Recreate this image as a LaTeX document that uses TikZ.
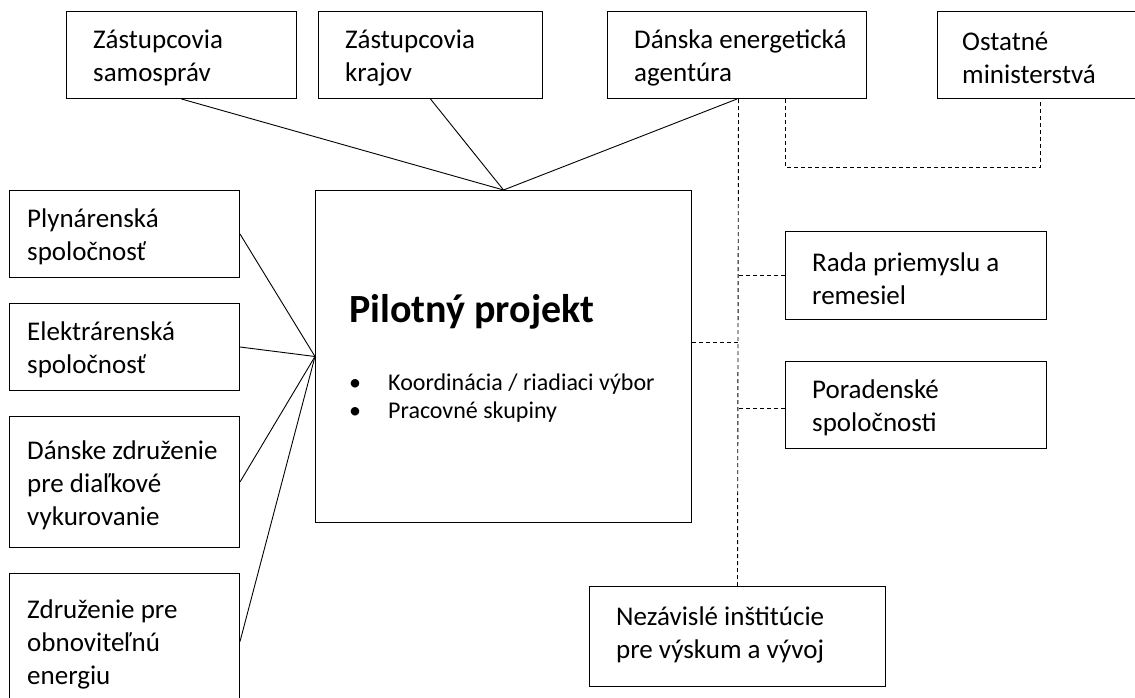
\documentclass[tikz,border=0pt]{standalone}
\usepackage{fontspec}
\setmainfont{Carlito}
\tikzset{
    box/.style={draw, line width=1pt, inner sep=0pt, anchor=north west},
    lbl/.style={anchor=west, align=left, inner sep=0pt, yshift=-3pt, font=\fontsize{27}{33}\selectfont},
    link/.style={line width=0.9pt},
    dlink/.style={line width=0.9pt, dash pattern=on 4pt off 3pt}
}
\begin{document}
\begin{tikzpicture}[x=1pt,y=-1pt]
    \clip (0,0) rectangle (1135,697);
    % top row
    \node[box, minimum width=230, minimum height=87] (samo) at (66,11) {};
    \node[box, minimum width=224, minimum height=87] (kraj) at (318,11) {};
    \node[box, minimum width=259, minimum height=87] (dea) at (607,11) {};
    \node[box, minimum width=198, minimum height=87] (mini) at (937,11) {};
    \node[lbl] (samo-t) at ([xshift=27pt]samo.west) {Zástupcovia\\samospráv};
    \node[lbl] (kraj-t) at ([xshift=27pt]kraj.west) {Zástupcovia\\krajov};
    \node[lbl] (dea-t) at ([xshift=27pt]dea.west) {Dánska energetická\\agentúra};
    \node[lbl] (mini-t) at ([xshift=25pt]mini.west) {Ostatné\\ministerstvá};
    % left column
    \node[box, minimum width=230, minimum height=87] (plyn) at (9,190) {};
    \node[box, minimum width=230, minimum height=87] (elek) at (9,303) {};
    \node[box, minimum width=230, minimum height=131] (dzdr) at (9,416) {};
    \node[box, minimum width=230, minimum height=136] (obno) at (9,573) {};
    \node[lbl] (plyn-t) at ([xshift=18pt]plyn.west) {Plynárenská\\spoločnosť};
    \node[lbl] (elek-t) at ([xshift=18pt]elek.west) {Elektrárenská\\spoločnosť};
    \node[lbl] (dzdr-t) at ([xshift=18pt]dzdr.west) {Dánske združenie\\pre diaľkové\\vykurovanie};
    \node[lbl] (obno-t) at ([xshift=18pt]obno.west) {Združenie pre\\obnoviteľnú\\energiu};
    % center
    \node[box, minimum width=376, minimum height=332] (pilot) at (315,190) {};
    \node[anchor=west, inner sep=0pt, font=\fontsize{40}{48}\selectfont\bfseries] (pilot-t) at (349,312) {Pilotný projekt};
    \node[anchor=north west, inner sep=0pt, font=\fontsize{24}{28}\selectfont] (pilot-b) at (349,371)
        {\begin{tabular}{@{}p{39pt}@{}l@{}}
            • & Koordinácia / riadiaci výbor\\
            • & Pracovné skupiny
        \end{tabular}};
    % right side
    \node[box, minimum width=261, minimum height=88] (rada) at (785,231) {};
    \node[box, minimum width=261, minimum height=87] (pora) at (785,361) {};
    \node[box, minimum width=296, minimum height=100] (nez) at (589,586) {};
    \node[lbl] (rada-t) at ([xshift=27pt]rada.west) {Rada priemyslu a\\remesiel};
    \node[lbl] (pora-t) at ([xshift=27pt]pora.west) {Poradenské\\spoločnosti};
    \node[lbl] (nez-t) at ([xshift=27pt,yshift=5pt]nez.west) {Nezávislé inštitúcie\\pre výskum a vývoj};
    % solid links
    \draw[link] (samo.south) -- (pilot.north);
    \draw[link] (kraj.south) -- (pilot.north);
    \draw[link] (dea.south) -- (pilot.north);
    \foreach \n in {plyn,elek,dzdr,obno}
        \draw[link] (\n.east) -- (pilot.west);
    % dashed links
    \draw[dlink] ([xshift=1.5pt]dea.south) -- (nez.north);
    \draw[dlink] ([yshift=14pt]pilot.east) -- ([yshift=14pt]pilot.east -| nez.north);
    \draw[dlink] (rada.west) -- (rada.west -| nez.north);
    \draw[dlink] ([yshift=-3pt]pora.west) -- ([yshift=-3pt]pora.west -| nez.north);
    \draw[dlink] ([xshift=48pt]dea.south) -- ++(0,68) -| ([xshift=4pt]mini.south);
\end{tikzpicture}
\end{document}
